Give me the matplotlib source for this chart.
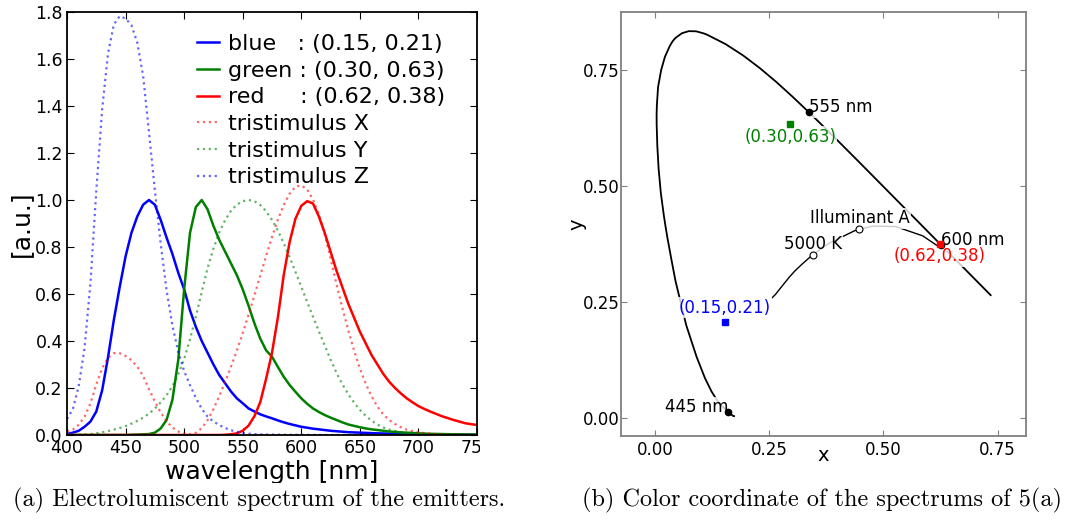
import numpy as np
import matplotlib
matplotlib.use('Agg')
import matplotlib.pyplot as plt
from matplotlib.transforms import Bbox, TransformedBbox

# longitudes de onda (nm), paso de 5 nm
wl = np.arange(400, 755, 5)

# espectros de los emisores, normalizados
blue_spec = [0.004, 0.01, 0.018, 0.035, 0.057, 0.10, 0.19, 0.33, 0.49, 0.63,
             0.76, 0.86, 0.93, 0.98, 1.0, 0.98, 0.915, 0.84, 0.77, 0.69,
             0.62, 0.53, 0.46, 0.40, 0.35, 0.30, 0.255, 0.22, 0.185, 0.156,
             0.135, 0.113, 0.10, 0.088, 0.079, 0.071, 0.062, 0.054, 0.047, 0.041,
             0.035, 0.031, 0.027, 0.024, 0.021, 0.018, 0.016, 0.014, 0.012, 0.011,
             0.010, 0.009, 0.008, 0.007, 0.0065, 0.006, 0.005, 0.0045, 0.004, 0.0035,
             0.003, 0.003, 0.0025, 0.0022, 0.002, 0.0018, 0.0016, 0.0014, 0.0012, 0.0011,
             0.001]
green_spec = [0.0, 0.0, 0.0, 0.0, 0.0, 0.0, 0.0, 0.0, 0.0, 0.0,
              0.0, 0.001, 0.002, 0.003, 0.004, 0.01, 0.028, 0.064, 0.15, 0.32,
              0.62, 0.86, 0.97, 1.0, 0.96, 0.89, 0.83, 0.78, 0.73, 0.68,
              0.62, 0.55, 0.475, 0.41, 0.36, 0.333, 0.29, 0.248, 0.213, 0.184,
              0.156, 0.133, 0.113, 0.098, 0.085, 0.074, 0.064, 0.054, 0.045, 0.039,
              0.033, 0.028, 0.024, 0.021, 0.018, 0.015, 0.013, 0.011, 0.010, 0.0085,
              0.007, 0.006, 0.005, 0.0045, 0.004, 0.0035, 0.003, 0.0028, 0.0025, 0.0022,
              0.002]
red_spec = [0.0, 0.0, 0.0, 0.0, 0.0, 0.0, 0.0, 0.0, 0.0, 0.0,
            0.0, 0.0, 0.0, 0.0, 0.0, 0.0, 0.0, 0.0, 0.0, 0.0,
            0.0, 0.0, 0.0, 0.0, 0.0, 0.0, 0.0, 0.001, 0.003, 0.007,
            0.018, 0.04, 0.08, 0.14, 0.24, 0.35, 0.50, 0.68, 0.82, 0.92,
            0.975, 0.995, 0.985, 0.93, 0.86, 0.78, 0.70, 0.63, 0.56, 0.50,
            0.44, 0.39, 0.34, 0.30, 0.26, 0.227, 0.20, 0.177, 0.156, 0.139,
            0.123, 0.111, 0.10, 0.09, 0.08, 0.072, 0.064, 0.057, 0.05, 0.046,
            0.043]

# funciones de igualacion CIE 1931 (2 grados)
cie_x = [0.01431, 0.02319, 0.04351, 0.07763, 0.13438, 0.21477, 0.2839, 0.3285, 0.34828, 0.34806,
         0.3362, 0.3187, 0.2908, 0.2511, 0.19536, 0.1421, 0.09564, 0.05795, 0.03201, 0.0147,
         0.0049, 0.0024, 0.0093, 0.0291, 0.06327, 0.1096, 0.1655, 0.22575, 0.2904, 0.3597,
         0.43345, 0.51205, 0.5945, 0.6784, 0.7621, 0.8425, 0.9163, 0.9786, 1.0263, 1.0567,
         1.0622, 1.0456, 1.0026, 0.9384, 0.85445, 0.7514, 0.6424, 0.5419, 0.4479, 0.3608,
         0.2835, 0.2187, 0.1649, 0.1212, 0.0874, 0.0636, 0.04677, 0.0329, 0.0227, 0.01584,
         0.011359, 0.008111, 0.00579, 0.004109, 0.002899, 0.002049, 0.00144, 0.001, 0.00069, 0.000476,
         0.000332]
cie_y = [0.000396, 0.00064, 0.00121, 0.00218, 0.004, 0.0073, 0.0116, 0.01684, 0.023, 0.0298,
         0.038, 0.048, 0.06, 0.0739, 0.09098, 0.1126, 0.13902, 0.1693, 0.20802, 0.2586,
         0.323, 0.4073, 0.503, 0.6082, 0.71, 0.7932, 0.862, 0.91485, 0.954, 0.9803,
         0.99495, 1.0, 0.995, 0.9786, 0.952, 0.9154, 0.87, 0.8163, 0.757, 0.6949,
         0.631, 0.5668, 0.503, 0.4412, 0.381, 0.321, 0.265, 0.217, 0.175, 0.1382,
         0.107, 0.0816, 0.061, 0.04458, 0.032, 0.0232, 0.017, 0.01192, 0.00821, 0.005723,
         0.004102, 0.002929, 0.002091, 0.001484, 0.001047, 0.00074, 0.00052, 0.000361, 0.000249, 0.000172,
         0.00012]
cie_z = [0.06785, 0.1102, 0.2074, 0.3713, 0.6456, 1.03905, 1.3856, 1.62296, 1.74706, 1.7826,
         1.77211, 1.7441, 1.6692, 1.5281, 1.28764, 1.0419, 0.81295, 0.6162, 0.46518, 0.3533,
         0.272, 0.2123, 0.1582, 0.1117, 0.07825, 0.05725, 0.04216, 0.02984, 0.0203, 0.0134,
         0.00875, 0.00575, 0.0039, 0.00275, 0.0021, 0.0018, 0.00165, 0.0014, 0.0011, 0.001,
         0.0008, 0.0006, 0.00034, 0.00024, 0.00019, 0.0001, 0.00005, 0.00003, 0.00002, 0.00001,
         0.0, 0.0, 0.0, 0.0, 0.0, 0.0, 0.0, 0.0, 0.0, 0.0,
         0.0, 0.0, 0.0, 0.0, 0.0, 0.0, 0.0, 0.0, 0.0, 0.0,
         0.0]

# coordenadas de color de los emisores (blue, green, red)
emit_names = ['blue', 'green', 'red']
emit_pad = ['   ', ' ', '     ']
emit_x = [0.153, 0.296, 0.623]
emit_y = [0.207, 0.634, 0.376]

# lugar espectral (diagrama xy CIE 1931), mas denso en la zona curva
locus_x = [0.1733, 0.1714, 0.1689, 0.1644, 0.1611, 0.1566, 0.1510, 0.1440, 0.1355, 0.1241,
           0.1096, 0.0913, 0.0687, 0.0454, 0.0364, 0.0276, 0.0235, 0.0198, 0.0131, 0.0082,
           0.0054, 0.0040, 0.0039, 0.0045, 0.0071, 0.0139, 0.0221, 0.0327, 0.0389, 0.0456,
           0.0594, 0.0743, 0.0903, 0.1061, 0.1142, 0.1547, 0.1929, 0.2296, 0.2658, 0.3016,
           0.3373, 0.3731, 0.4087, 0.4441, 0.4788, 0.5125, 0.5448, 0.5752, 0.6029, 0.6270,
           0.6482, 0.6658, 0.6915, 0.7079, 0.7190, 0.7260, 0.7300, 0.7334, 0.7347]
locus_y = [0.0048, 0.0051, 0.0069, 0.0109, 0.0138, 0.0177, 0.0227, 0.0297, 0.0399, 0.0578,
           0.0868, 0.1327, 0.2007, 0.2950, 0.3413, 0.3886, 0.4127, 0.4364, 0.4856, 0.5384,
           0.5880, 0.6335, 0.6548, 0.6748, 0.7135, 0.7502, 0.7785, 0.8017, 0.8120, 0.8195,
           0.8293, 0.8338, 0.8334, 0.8292, 0.8262, 0.8059, 0.7816, 0.7543, 0.7243, 0.6923,
           0.6589, 0.6245, 0.5896, 0.5547, 0.5202, 0.4866, 0.4544, 0.4242, 0.3965, 0.3725,
           0.3514, 0.3340, 0.3083, 0.2920, 0.2809, 0.2740, 0.2700, 0.2666, 0.2653]

# lugar de Planck
planck_x = [0.257, 0.264, 0.281, 0.295, 0.306, 0.322, 0.345, 0.381, 0.437, 0.448, 0.477, 0.527, 0.586, 0.625]
planck_y = [0.260, 0.267, 0.288, 0.305, 0.317, 0.332, 0.352, 0.377, 0.404, 0.407, 0.414, 0.413, 0.393, 0.367]

# puntos marcados
mark_nm = ['445 nm', '555 nm', '600 nm']
mark_x = [0.1611, 0.3373, 0.6270]
mark_y = [0.0138, 0.6589, 0.3725]
ref_names = ['5000 K', 'Illuminant A']
ref_x = [0.3451, 0.4476]
ref_y = [0.3516, 0.4074]

fig = plt.figure(figsize=(10.7, 5.32), dpi=100)

# ---- (a) espectros ----
ax1 = fig.add_axes([67/1070, 97/532, 410/1070, 423/532])
cols = ['b', 'g', 'r']
for spec, c, nm, pad, x, y in zip([blue_spec, green_spec, red_spec], cols, emit_names, emit_pad, emit_x, emit_y):
    ax1.plot(wl, spec, color=c, lw=1.8, label='%s%s: (%.2f, %.2f)' % (nm, pad, x, y))
for cmf, c, n in zip([cie_x, cie_y, cie_z], ['r', 'g', 'b'], ['X', 'Y', 'Z']):
    ax1.plot(wl, cmf, color=c, ls=':', lw=1.6, alpha=0.6, label='tristimulus ' + n)
ax1.set_xlim(400, 750)
ax1.set_ylim(0, 1.8)
ax1.set_xticks(np.arange(400, 751, 50))
ax1.set_yticks(np.arange(0, 1.81, 0.2))
ax1.tick_params(direction='in', top=True, right=True, length=5, labelsize=12.5, pad=3)
for s in ax1.spines.values():
    s.set_linewidth(1.3)
ax1.set_xlabel('wavelength [nm]', fontsize=18)
ax1.set_ylabel('[a.u.]', fontsize=18)
ax1.xaxis.set_label_coords(0.5, -0.058)
ax1.yaxis.set_label_coords(-0.083, 0.5)
ax1.legend(loc='upper right', bbox_to_anchor=(0.922, 0.948), frameon=False, fontsize=16,
           borderaxespad=0, borderpad=0, labelspacing=0.3, handlelength=1.0, handletextpad=0.4)

# ---- (b) diagrama de cromaticidad ----
ax2 = fig.add_axes([621/1070, 96/532, 405/1070, 424/532])
box = dict(facecolor='white', edgecolor='none', alpha=0.8, pad=1)
ax2.plot(locus_x, locus_y, color='k', lw=1.3)
ax2.plot(planck_x, planck_y, color='k', lw=1.0)
ax2.plot(mark_x, mark_y, 'o', color='k', ms=4.5, zorder=4)
ax2.plot(ref_x, ref_y, 'o', mfc='white', mec='k', ms=5, mew=0.8, zorder=4)
for c, x, y in zip(cols, emit_x, emit_y):
    ax2.plot(x, y, 's', color=c, ms=4.5, zorder=5)
ax2.text(mark_x[0], mark_y[0], mark_nm[0], ha='right', fontsize=12, bbox=box)
ax2.text(mark_x[1], mark_y[1], mark_nm[1], fontsize=12, bbox=box)
ax2.text(mark_x[2], mark_y[2], mark_nm[2], fontsize=12, bbox=box)
for n, x, y in zip(ref_names, ref_x, ref_y):
    ax2.text(x, y + 0.004, n, ha='center', va='bottom', fontsize=12, bbox=box)
lab_va = ['bottom', 'top', 'top']
lab_dy = [0.012, -0.008, -0.008]
for c, x, y, va, dy in zip(cols, emit_x, emit_y, lab_va, lab_dy):
    ax2.text(x, y + dy, '(%.2f,%.2f)' % (x, y), color=c, ha='center', va=va, fontsize=12, bbox=box)
ax2.set_xlim(-0.074, 0.812)
ax2.set_ylim(-0.038, 0.875)
ax2.set_xticks([0, 0.25, 0.5, 0.75])
ax2.set_yticks([0, 0.25, 0.5, 0.75])
ax2.xaxis.set_major_formatter(plt.FormatStrFormatter('%.2f'))
ax2.yaxis.set_major_formatter(plt.FormatStrFormatter('%.2f'))
ax2.tick_params(direction='in', top=True, right=True, length=4, labelsize=12, color='#808080')
ax2.tick_params(axis='y', pad=1)
for s in ax2.spines.values():
    s.set_color('#808080')
    s.set_linewidth(1.3)
ax2.set_xlabel('x', fontsize=14)
ax2.set_ylabel('y', fontsize=14)
ax2.xaxis.set_label_coords(0.5, -0.024)
ax2.yaxis.set_label_coords(-0.085, 0.5)

# pies de figura
fig.text(259.5/1070, 1 - 500/532, '(a) Electrolumiscent spectrum of the emitters.',
         family='cmr10', fontsize=17.5, ha='center', va='center')
fig.text(821.5/1070, 1 - 500/532, '(b) Color coordinate of the spectrums of 5(a)',
         family='cmr10', fontsize=17.5, ha='center', va='center')

# recorte del panel (a) como en la figura original
fig.canvas.draw()
clip = TransformedBbox(Bbox.from_extents(0, 1 - 483/532, 480/1070, 1), fig.transFigure)
for t in ax1.xaxis.get_major_ticks():
    t.label1.set_clip_box(clip)
    t.label1.set_clip_on(True)
ax1.xaxis.label.set_clip_box(clip)
ax1.xaxis.label.set_clip_on(True)

fig.savefig('out.png', dpi=100)
